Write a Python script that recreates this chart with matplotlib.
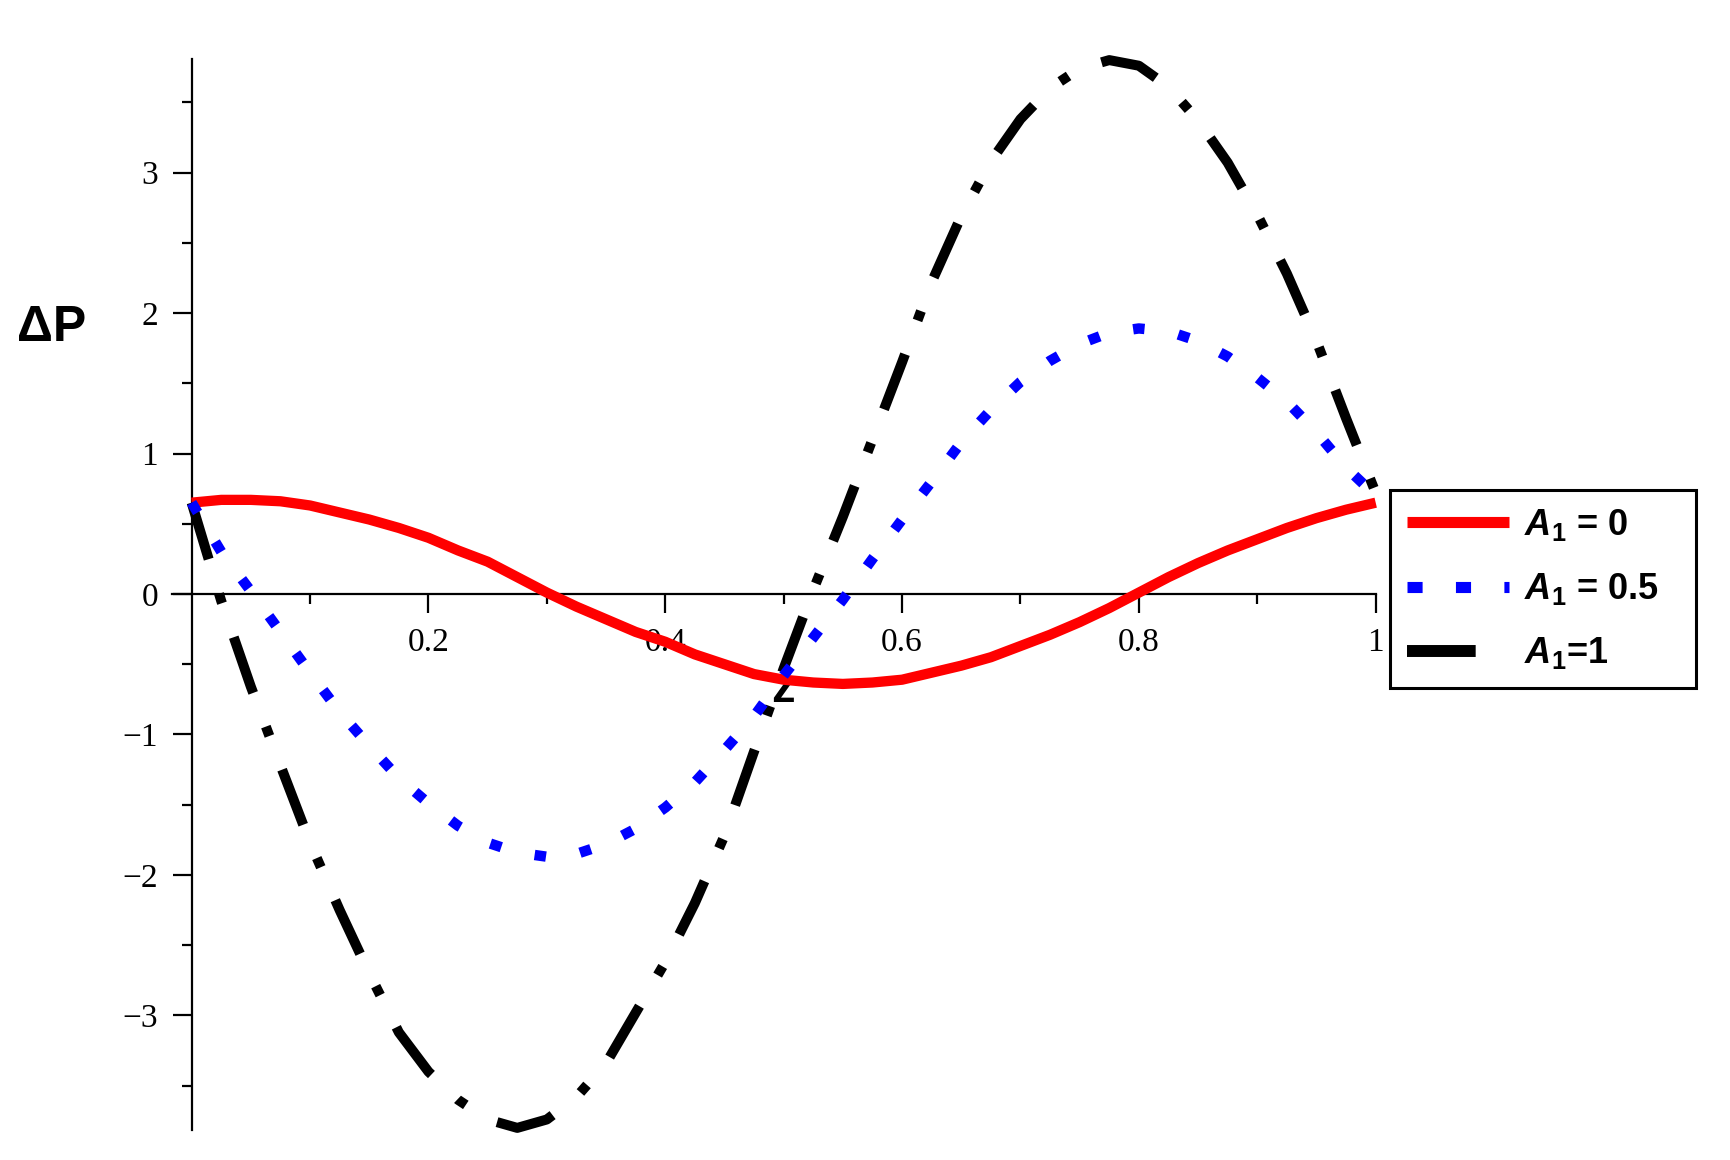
import numpy as np
import matplotlib
matplotlib.use("Agg")
import matplotlib.pyplot as plt
from matplotlib.lines import Line2D

plt.rcParams['mathtext.fontset'] = 'custom'
plt.rcParams['mathtext.rm'] = 'Liberation Sans:bold'
plt.rcParams['mathtext.bf'] = 'Liberation Sans:bold'
plt.rcParams['mathtext.it'] = 'Liberation Sans:bold:italic'
plt.rcParams['mathtext.bfit'] = 'Liberation Sans:bold:italic'

# values, step 0.025 in z
z = np.linspace(0, 1, 41)
dp_a0 = [0.65, 0.67, 0.67, 0.66, 0.63, 0.58, 0.53, 0.47, 0.40, 0.31,
         0.23, 0.12, 0.01, -0.09, -0.18, -0.27, -0.34, -0.43, -0.50, -0.57,
         -0.61, -0.63, -0.64, -0.63, -0.61, -0.56, -0.51, -0.45, -0.37, -0.29,
         -0.20, -0.10, 0.01, 0.12, 0.22, 0.31, 0.39, 0.47, 0.54, 0.60,
         0.65]
dp_a05 = [0.65, 0.30, 0.02, -0.27, -0.56, -0.84, -1.08, -1.31, -1.49, -1.65,
          -1.77, -1.84, -1.87, -1.85, -1.78, -1.67, -1.52, -1.34, -1.11, -0.87,
          -0.58, -0.31, -0.04, 0.25, 0.53, 0.80, 1.08, 1.31, 1.51, 1.66,
          1.78, 1.86, 1.89, 1.87, 1.80, 1.69, 1.54, 1.37, 1.15, 0.90,
          0.70]
dp_a1 = [0.65, -0.05, -0.66, -1.22, -1.77, -2.25, -2.70, -3.12, -3.40, -3.60,
         -3.74, -3.80, -3.74, -3.58, -3.34, -2.98, -2.62, -2.20, -1.72, -1.12,
         -0.53, 0.03, 0.55, 1.10, 1.65, 2.22, 2.69, 3.08, 3.38, 3.60,
         3.74, 3.80, 3.76, 3.61, 3.37, 3.07, 2.70, 2.28, 1.80, 1.25,
         0.72]
labels = [r'$\mathbfit{A}_{\mathbf{1}}$ = 0', r'$\mathbfit{A}_{\mathbf{1}}$ = 0.5',
          r'$\mathbfit{A}_{\mathbf{1}}$=1']

W, H = 1731, 1160
fig = plt.figure(figsize=(W / 100, H / 100), dpi=100)
ax = fig.add_axes([172 / W, 1 - 1130 / H, (1375.7 - 172) / W, (1130 - 58.7) / H])

ax.plot(z, dp_a0, color='#ff0000', lw=7.4, solid_capstyle='butt', clip_on=False, zorder=3)
ax.plot(z, dp_a1, color='black', lw=7.2, linestyle=(0, (5.9, 3.6, 1.0, 3.6)),
        dash_capstyle='butt', clip_on=False, zorder=4)
ax.plot(z, dp_a05, color='#0000ff', lw=7.5, linestyle=(0, (1.1, 3.3)),
        dash_capstyle='butt', clip_on=False, zorder=5)

ax.set_xlim(-0.0166, 1.0)
ax.set_ylim(-3.815, 3.81)
for s in ['top', 'right']:
    ax.spines[s].set_visible(False)
ax.spines['left'].set_position(('data', 0))
ax.spines['bottom'].set_position(('data', 0))
for s in ['left', 'bottom']:
    ax.spines[s].set_linewidth(1.6)

ax.set_xticks([0.2, 0.4, 0.6, 0.8, 1.0])
ax.set_xticklabels(['0.2', '0.4', '0.6', '0.8', '1'])
ax.set_xticks([0.1, 0.3, 0.5, 0.7, 0.9], minor=True)
ax.set_yticks([-3, -2, -1, 0, 1, 2, 3])
ax.set_yticklabels(['\u22123', '\u22122', '\u22121', '0', '1', '2', '3'])
ax.set_yticks([-3.5, -2.5, -1.5, -0.5, 0.5, 1.5, 2.5, 3.5], minor=True)
ax.tick_params(which='major', length=13.7, width=1.6, pad=10.5,
               labelsize=24, direction='out')
ax.tick_params(which='minor', length=7.2, width=1.6, direction='out')
for t in ax.get_xticklabels() + ax.get_yticklabels():
    t.set_family('Liberation Serif')

ax.set_ylabel('\u0394P', rotation=0, fontsize=36, fontweight='bold',
              family='Liberation Sans', ha='center', va='center')
ax.yaxis.set_label_coords(-0.0997, 0.7486)
ax.set_xlabel('z', fontsize=34, fontweight='bold', family='Liberation Sans',
              ha='center', va='center')
ax.xaxis.set_label_coords(0.5076, 0.4107)
ax.xaxis.label.set_zorder(6)

handles = [
    Line2D([], [], color='#ff0000', lw=8, solid_capstyle='butt'),
    Line2D([], [], color='#0000ff', lw=8, linestyle=(0, (1.36, 3.0)), dash_capstyle='butt'),
    Line2D([], [], color='black', lw=8.6, linestyle=(0, (5.75, 10)), dash_capstyle='butt'),
]
leg = ax.legend(handles, labels, loc='upper left', mode='expand',
                bbox_to_anchor=(1390 / W, 1 - 692 / H, 306 / W, 202 / H),
                bbox_transform=fig.transFigure,
                borderaxespad=0, fancybox=False, framealpha=1, edgecolor='black',
                prop={'family': 'Liberation Sans', 'weight': 'bold', 'size': 26},
                handlelength=2.83, handletextpad=0.42, borderpad=0.47,
                labelspacing=0.78)
leg.get_frame().set_linewidth(2.2)

fig.savefig('out.png', dpi=100)
